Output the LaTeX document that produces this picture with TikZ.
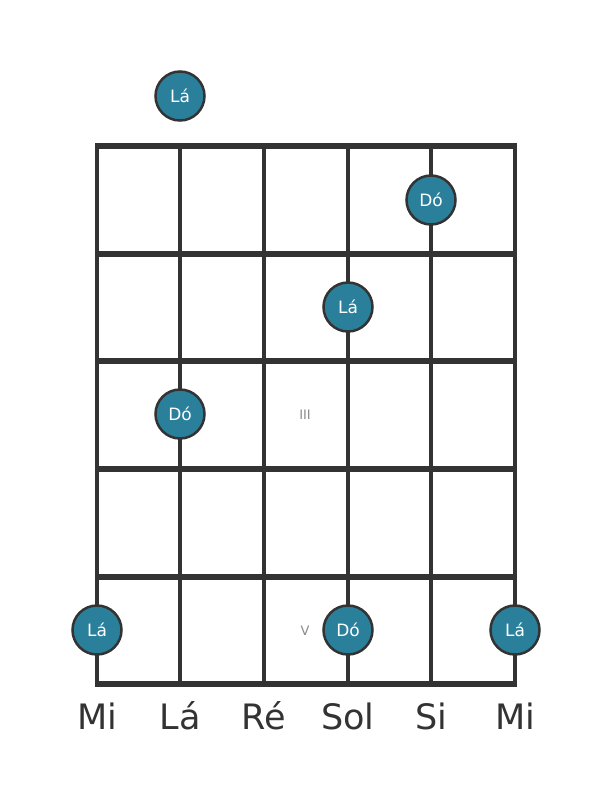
\documentclass[tikz,border=0pt]{standalone}
\usepackage{fontspec}
\setmainfont{DejaVu Sans}
\definecolor{dotfill}{HTML}{2A7F9B}
\definecolor{ink}{HTML}{333333}
\definecolor{roman}{HTML}{8A8A8A}
\begin{document}
\begin{tikzpicture}[x=1pt,y=-1pt,
  fretline/.style={draw=ink,line width=6pt},
  stringline/.style={draw=ink,line width=3.5pt},
  note/.style={circle,draw=ink,line width=2.5pt,fill=dotfill,minimum size=49pt,inner sep=0pt,text=white,font=\fontsize{17}{17}\selectfont},
  strname/.style={anchor=base,text=ink,font=\fontsize{35}{35}\selectfont},
  fretnum/.style={text=roman,font=\fontsize{13}{13}\selectfont}]
\useasboundingbox (0,0) rectangle (611,801);
% strings
\foreach \x in {97,180,264,348,431,515}
  \draw[stringline] (\x,146) -- (\x,684);
% frets
\foreach \y in {146,254,361,469,577,684}
  \draw[fretline] (95.25,\y) -- (516.75,\y);
% fret numbers
\node[fretnum] (f3) at (305,415) {III};
\node[fretnum] (f5) at (305,631) {V};
% notes
\node[note] (n0) at (180,96) {Lá};
\node[note] (n1) at (431,200) {Dó};
\node[note] (n2) at (348,307) {Lá};
\node[note] (n3) at (180,414) {Dó};
\node[note] (n4) at (97,630) {Lá};
\node[note] (n5) at (348,630) {Dó};
\node[note] (n6) at (515,630) {Lá};
% string names
\node[strname] (s1) at (97,729) {Mi};
\node[strname] (s2) at (180,729) {Lá};
\node[strname] (s3) at (264,729) {Ré};
\node[strname] (s4) at (348,729) {Sol};
\node[strname] (s5) at (431,729) {Si};
\node[strname] (s6) at (515,729) {Mi};
\end{tikzpicture}
\end{document}
